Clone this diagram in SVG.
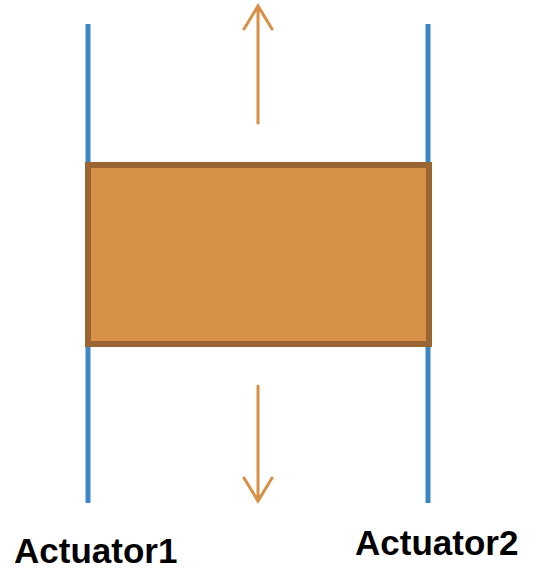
<svg xmlns="http://www.w3.org/2000/svg" width="538" height="571" viewBox="0 0 538 571">
<style>
.act{stroke:#3C86C6;stroke-width:5;fill:none}
.arr{stroke:#D89048;stroke-width:3;fill:none;stroke-linecap:round;stroke-linejoin:miter}
.lbl{font-family:"Liberation Sans",Arial,sans-serif;font-weight:bold;font-size:35px;fill:#000}
</style>
<rect width="538" height="571" fill="#fff"/>
<g id="actuator1"><line class="act" x1="88" y1="24" x2="88" y2="503"/></g>
<g id="actuator2"><line class="act" x1="428" y1="24" x2="428" y2="503"/></g>
<g id="block"><rect x="88" y="165" width="341" height="179" fill="#D79048" stroke="#9A6530" stroke-width="6"/></g>
<g id="connectors">
<path class="arr" d="M258 123 V6 M244 29 L258 6 L272 29"/>
<path class="arr" d="M258 386 V501 M244 478 L258 501 L272 478"/>
</g>
<g id="labels">
<text class="lbl" x="14" y="563">Actuator1</text>
<text class="lbl" x="355" y="555">Actuator2</text>
</g>
</svg>
